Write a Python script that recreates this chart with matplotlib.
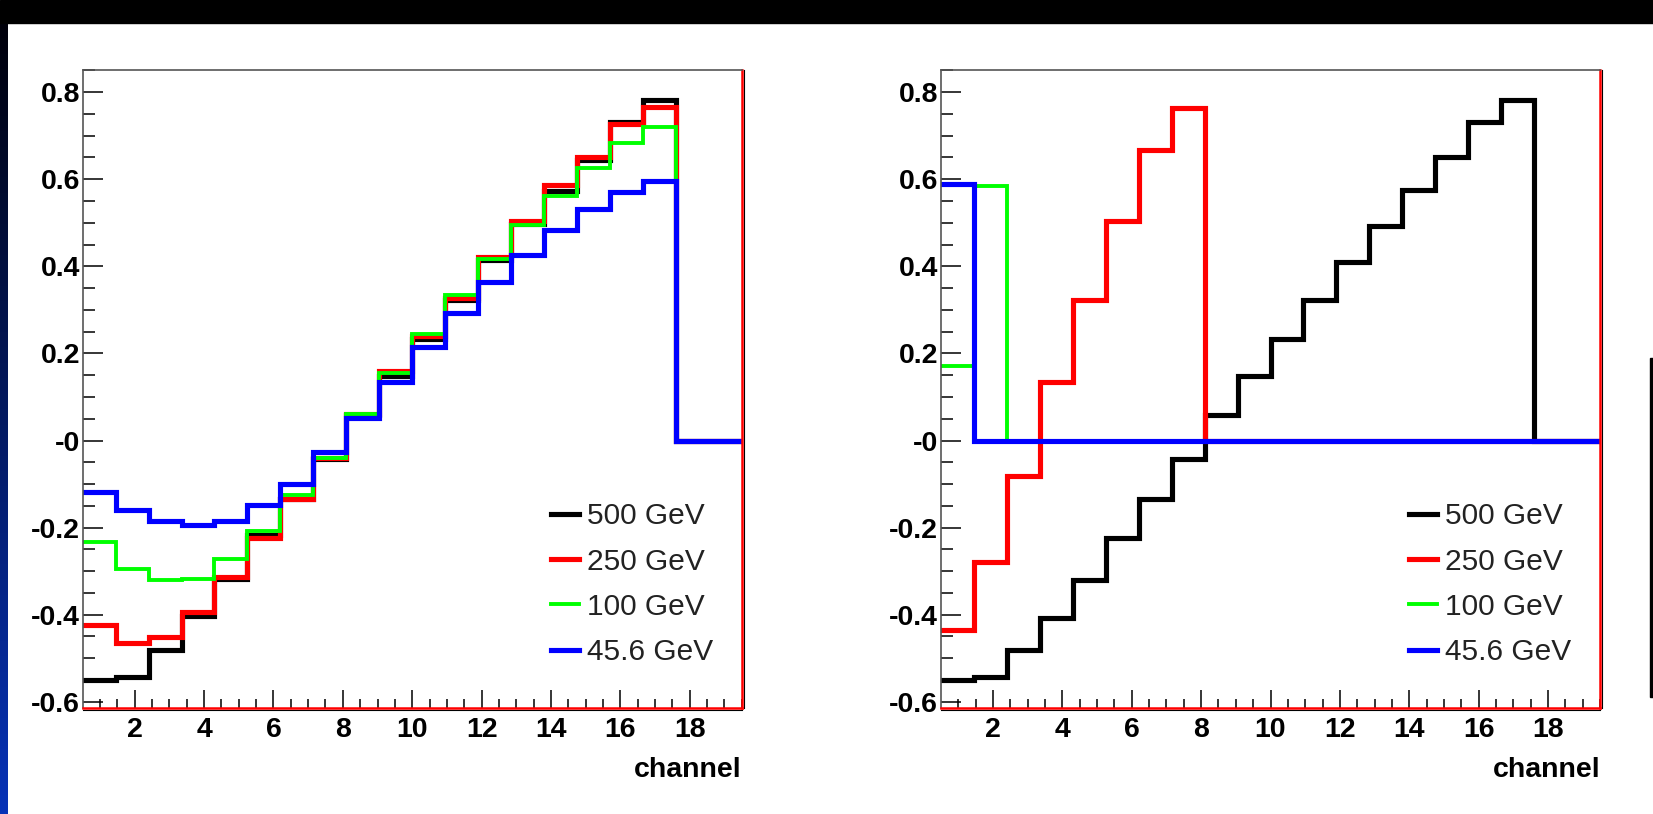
import numpy as np
import matplotlib
matplotlib.use("Agg")
import matplotlib.pyplot as plt
from matplotlib.lines import Line2D
from matplotlib.patches import Rectangle
from matplotlib import transforms

plt.rcParams['font.family'] = ['Liberation Sans', 'DejaVu Sans']

# 20 channels, histogram from 0.5 to 19.5
edges = np.linspace(0.5, 19.5, 21)
labels = ["500 GeV", "250 GeV", "100 GeV", "45.6 GeV"]
colors = ["#000000", "#ff0000", "#00ff00", "#0000ff"]

# left panel
left_500 = [-0.550, -0.543, -0.480, -0.403, -0.318, -0.217, -0.135, -0.042, 0.058, 0.149,
            0.233, 0.323, 0.415, 0.497, 0.573, 0.645, 0.732, 0.782, 0.0, 0.0]
left_250 = [-0.424, -0.466, -0.452, -0.393, -0.313, -0.225, -0.135, -0.040, 0.060, 0.160,
            0.240, 0.328, 0.422, 0.503, 0.587, 0.652, 0.727, 0.767, 0.0, 0.0]
left_100 = [-0.232, -0.294, -0.320, -0.317, -0.272, -0.208, -0.125, -0.040, 0.062, 0.154,
            0.245, 0.333, 0.417, 0.495, 0.562, 0.625, 0.684, 0.721, 0.0, 0.0]
left_45 = [-0.119, -0.160, -0.186, -0.194, -0.185, -0.148, -0.100, -0.026, 0.051, 0.135,
           0.214, 0.292, 0.365, 0.426, 0.484, 0.531, 0.570, 0.595, 0.0, 0.0]

# right panel
right_500 = [-0.550, -0.543, -0.480, -0.408, -0.320, -0.225, -0.135, -0.042, 0.058, 0.148,
             0.232, 0.322, 0.410, 0.492, 0.575, 0.650, 0.732, 0.782, 0.0, 0.0]
right_250 = [-0.436, -0.280, -0.082, 0.134, 0.323, 0.505, 0.667, 0.763, 0.0, 0.0,
             0.0, 0.0, 0.0, 0.0, 0.0, 0.0, 0.0, 0.0, 0.0, 0.0]
right_100 = [0.170, 0.585, 0.0, 0.0, 0.0, 0.0, 0.0, 0.0, 0.0, 0.0,
             0.0, 0.0, 0.0, 0.0, 0.0, 0.0, 0.0, 0.0, 0.0, 0.0]
right_45 = [0.589, 0.0, 0.0, 0.0, 0.0, 0.0, 0.0, 0.0, 0.0, 0.0,
            0.0, 0.0, 0.0, 0.0, 0.0, 0.0, 0.0, 0.0, 0.0, 0.0]

yticks = [-0.6, -0.4, -0.2, 0.0, 0.2, 0.4, 0.6, 0.8]
ytick_labels = ["-0.6", "-0.4", "-0.2", "-0", "0.2", "0.4", "0.6", "0.8"]
xticks = [2, 4, 6, 8, 10, 12, 14, 16, 18]

widths = [3.7, 3.7, 2.8, 3.7]

W, H = 1653, 814
fig = plt.figure(figsize=(W / 100, H / 100), dpi=100)
fig.patch.set_facecolor("white")

# slide decorations: black band on top, blue strip on the left
fig.patches.append(Rectangle((0, 1 - 23 / H), 1, 23 / H, transform=fig.transFigure,
                             color="black", zorder=0))
bg = fig.add_axes([0, 0, 8 / W, 1 - 23 / H])
grad = np.linspace(0, 1, 256)[:, None]
top_c = np.array([0.0, 0.0, 0.04])
bot_c = np.array([0.03, 0.2, 0.72])
img = (top_c[None, None, :] * (1 - grad[..., None]) + bot_c[None, None, :] * grad[..., None])
bg.imshow(img, aspect="auto", extent=[0, 1, 0, 1], origin="upper")
bg.axis("off")
fig.patches.append(Rectangle(((W - 3) / W, 1 - 697 / H), 3 / W, (697 - 358) / H,
                             transform=fig.transFigure, color="black", zorder=0))


def draw_panel(ax, series):
    for vals, c, lw in zip(series, colors, widths):
        st = ax.stairs(vals, edges, baseline=None, color=c, linewidth=lw)
        st.set_joinstyle("miter")
        st.set_capstyle("projecting")
    ax.set_xlim(0.5, 19.5)
    ax.set_ylim(-0.615, 0.852)
    ax.set_yticks(yticks)
    ax.set_yticklabels(ytick_labels)
    ax.set_yticks(np.arange(-0.6, 0.851, 0.05), minor=True)
    ax.set_xticks(xticks)
    ax.set_xticks(np.arange(1.0, 19.51, 0.5), minor=True)
    ax.tick_params(axis="both", which="both", direction="in", colors="black", width=1.1)
    ax.tick_params(axis="y", which="major", length=14.5, pad=2)
    ax.tick_params(axis="y", which="minor", length=8.5)
    ax.tick_params(axis="x", which="major", length=13, pad=6)
    ax.tick_params(axis="x", which="minor", length=6.5)
    for lab in ax.get_xticklabels() + ax.get_yticklabels():
        lab.set_fontsize(20.5)
        lab.set_fontweight("bold")
    for s in ["left", "top"]:
        ax.spines[s].set_color("#555555")
        ax.spines[s].set_linewidth(1.2)
    for s in ["bottom", "right"]:
        ax.spines[s].set_color("#ff0000")
        ax.spines[s].set_linewidth(1.8)
    # thin black frame line just outside the red one
    t_down = transforms.offset_copy(ax.transAxes, fig, x=0, y=-2, units="dots")
    t_right = transforms.offset_copy(ax.transAxes, fig, x=2, y=0, units="dots")
    ax.plot([0, 1], [0, 0], color="black", lw=0.8, transform=t_down, clip_on=False)
    ax.plot([1, 1], [0, 1], color="black", lw=0.8, transform=t_right, clip_on=False)
    ax.text(1.0, -0.107, "channel", transform=ax.transAxes, ha="right", va="baseline",
            fontsize=20.5, fontweight="bold")
    handles = [Line2D([], [], color=c, lw=lw) for c, lw in zip(colors, widths)]
    leg = ax.legend(handles, labels, loc="lower left", bbox_to_anchor=(0.710, 0.066),
                    frameon=False, borderpad=0, borderaxespad=0, handlelength=0.95,
                    handletextpad=0.27, labelspacing=0.58, fontsize=21.5)
    for t in leg.get_texts():
        t.set_color("#222222")


axl = fig.add_axes([82.7 / W, 1 - 708.3 / H, 659 / W, 638.8 / H])
draw_panel(axl, [left_500, left_250, left_100, left_45])

axr = fig.add_axes([941 / W, 1 - 708.3 / H, 659 / W, 638.8 / H])
draw_panel(axr, [right_500, right_250, right_100, right_45])

fig.savefig("out.png", dpi=100)
